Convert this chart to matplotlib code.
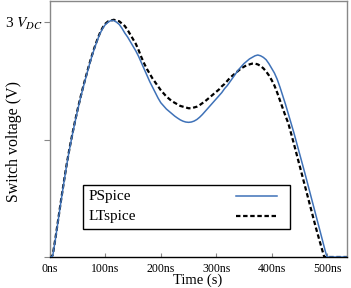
import matplotlib
matplotlib.use("Agg")
import matplotlib.pyplot as plt
from matplotlib.lines import Line2D
from matplotlib.patches import Rectangle

plt.rcParams["font.family"] = ["Liberation Serif", "DejaVu Serif"]
plt.rcParams["mathtext.fontset"] = "stix"

# time in ns, switch voltage in units of V_DC
t_ps = [0, 3, 5, 10, 15, 20, 25, 30, 35, 40, 45, 50, 55, 60, 65, 70, 75, 80,
        85, 90, 95, 100, 105, 110, 115, 120, 125, 130, 135, 140, 145, 150, 155,
        160, 165, 170, 175, 180, 185, 190, 195, 200, 205, 210, 215, 220, 225,
        230, 235, 240, 245, 250, 255, 260, 265, 270, 275, 280, 285, 290, 295,
        300, 305, 310, 315, 320, 325, 330, 335, 340, 345, 350, 355, 360, 365,
        370, 375, 380, 385, 390, 395, 400, 405, 410, 415, 420, 425, 430, 435,
        440, 450, 460, 470, 480, 490, 497, 500, 536]
v_ps = [0, 0, 0.02, 0.24, 0.48, 0.72, 0.95, 1.17, 1.37, 1.55, 1.72, 1.88, 2.03,
        2.17, 2.30, 2.43, 2.55, 2.66, 2.76, 2.85, 2.92, 2.97, 3.00, 3.02, 3.02,
        3.00, 2.97, 2.92, 2.86, 2.81, 2.75, 2.69, 2.63, 2.56, 2.48, 2.40, 2.32,
        2.24, 2.17, 2.10, 2.03, 1.97, 1.93, 1.89, 1.86, 1.83, 1.80, 1.775,
        1.752, 1.735, 1.724, 1.72, 1.724, 1.736, 1.756, 1.785, 1.82, 1.86, 1.90,
        1.94, 1.98, 2.02, 2.06, 2.10, 2.15, 2.19, 2.24, 2.29, 2.34, 2.39, 2.43,
        2.47, 2.50, 2.53, 2.55, 2.57, 2.58, 2.57, 2.55, 2.52, 2.47, 2.41, 2.35,
        2.27, 2.17, 2.06, 1.95, 1.83, 1.71, 1.59, 1.33, 1.07, 0.80, 0.53, 0.26,
        0.07, 0, 0]

t_lt = [0, 3, 5, 10, 15, 20, 25, 30, 35, 40, 45, 50, 55, 60, 65, 70, 75, 80,
        85, 90, 95, 100, 105, 110, 115, 120, 125, 130, 135, 140, 145, 150, 155,
        160, 165, 170, 175, 180, 185, 190, 195, 200, 205, 210, 215, 220, 225,
        230, 235, 240, 245, 250, 255, 260, 265, 270, 276, 280, 285, 290, 295,
        300, 305, 310, 315, 320, 325, 330, 335, 340, 345, 350, 355, 360, 365,
        370, 375, 380, 385, 390, 395, 400, 405, 410, 415, 420, 425, 430, 440,
        450, 460, 470, 480, 490, 495, 536]
v_lt = [0, 0, 0.03, 0.25, 0.49, 0.73, 0.96, 1.18, 1.38, 1.56, 1.73, 1.89, 2.04,
        2.18, 2.31, 2.44, 2.56, 2.67, 2.77, 2.86, 2.93, 2.98, 3.01, 3.02, 3.03,
        3.02, 3.01, 2.98, 2.95, 2.90, 2.84, 2.78, 2.72, 2.64, 2.55, 2.47, 2.40,
        2.34, 2.28, 2.23, 2.18, 2.13, 2.09, 2.05, 2.02, 1.99, 1.97, 1.95, 1.93,
        1.92, 1.91, 1.90, 1.90, 1.91, 1.92, 1.94, 1.97, 1.99, 2.02, 2.05, 2.08,
        2.11, 2.14, 2.18, 2.21, 2.25, 2.29, 2.32, 2.35, 2.38, 2.41, 2.43, 2.45,
        2.46, 2.47, 2.47, 2.46, 2.44, 2.41, 2.37, 2.32, 2.26, 2.19, 2.10, 2.00,
        1.90, 1.80, 1.71, 1.45, 1.18, 0.91, 0.64, 0.37, 0.12, 0, 0]

x_ticks = [0, 100, 200, 300, 400, 500]
x_labels = ["0ns", "100ns", "200ns", "300ns", "400ns", "500ns"]
y_ticks = [0, 1.5, 3]
y_labels = ["", "", "3 $V_{DC}$"]

BLUE = "#3f72b8"
DASH = (0, (2.0, 1.2))

fig = plt.figure(figsize=(3.51, 2.88), dpi=100)
ax = fig.add_axes([0.1425, 0.1076, 0.8461, 0.889])

ax.plot(t_lt, v_lt, color="black", lw=1.6, ls=DASH, zorder=3)
ax.plot(t_ps, v_ps, color=BLUE, lw=1.1, zorder=4)

ax.set_xlim(0, 536)
ax.set_ylim(0, 3.27)

ax.set_xticks(x_ticks)
ax.set_xticklabels(x_labels, fontsize=8.5)
ax.set_yticks(y_ticks)
ax.set_yticklabels(y_labels, fontsize=11)
ax.tick_params(axis="x", direction="in", length=3, color="#888888", pad=4)
ax.tick_params(axis="y", direction="out", length=4, color="#888888", pad=1)

for side in ["left", "right", "top"]:
    ax.spines[side].set_color("#888888")
    ax.spines[side].set_linewidth(1.0)
ax.spines["bottom"].set_color("black")
ax.spines["bottom"].set_linewidth(1.0)

ax.set_ylabel("Switch voltage (V)", fontsize=11.4)
ax.yaxis.set_label_coords(-0.094, 0.45)
fig.text(0.564, 0.004, "Time (s)", fontsize=10.5, ha="center", va="bottom")

# legend box: labels on the left, line samples on the right
ax.add_patch(Rectangle((0.111, 0.109), 0.697, 0.172, transform=ax.transAxes,
                       facecolor="white", edgecolor="black", lw=1.0, zorder=6))
for yy, name, style in [(0.238, "PSpice", dict(color=BLUE, lw=1.1)),
                        (0.160, "LTspice", dict(color="black", lw=1.6, ls=DASH))]:
    ax.text(0.131, yy, name, transform=ax.transAxes, fontsize=11,
            ha="left", va="center", zorder=7)
    ax.add_line(Line2D([0.626, 0.764], [yy, yy], transform=ax.transAxes,
                       zorder=7, **style))

fig.savefig("out.png", dpi=100)
